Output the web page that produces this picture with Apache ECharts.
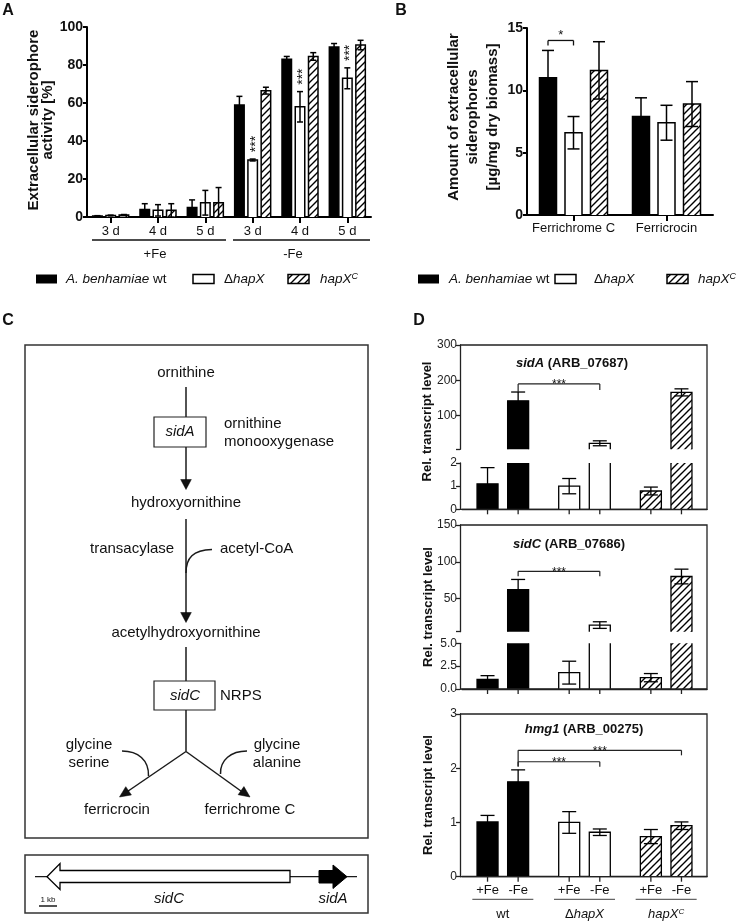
<!DOCTYPE html>
<html><head><meta charset="utf-8">
<script src="https://cdn.jsdelivr.net/npm/echarts@6/dist/echarts.min.js"></script>
<style>html,body{margin:0;padding:0;background:#fff}#c{width:740px;height:924px}</style>
</head><body><div id="c"></div>
<script>
// ================= DATA =================
// Panel A: extracellular siderophore activity [%]
const catsA = ['3 d','4 d','5 d','3 d','4 d','5 d'];
const groupsA = ['+Fe','-Fe'];
const A_wt = [0.5, 4, 5, 59, 83, 89.5];
const A_wt_err = [0.2, 3, 4, 4.5, 1.5, 1.8];
const A_dh = [0.8, 3.5, 7.5, 30, 58, 73];
const A_dh_err = [0.2, 3, 6.5, 0.5, 8, 5.5];
const A_c = [1.0, 3.5, 7.5, 66.5, 84.5, 90.5];
const A_c_err = [0.3, 3.5, 8, 1.8, 2, 2.5];
const A_sig = ['', '', '', '***', '***', '***'];
// Panel B: amount of extracellular siderophores
const catsB = ['Ferrichrome C','Ferricrocin'];
const B_wt = [11, 7.9], B_wt_err = [2.2, 1.5];
const B_dh = [6.6, 7.4], B_dh_err = [1.3, 1.4];
const B_c = [11.6, 8.9], B_c_err = [2.3, 1.8];
const sigB = [[0, 0, 1, 14, '*']]; // category, strain from, strain to, height, label
// Panel D: relative transcript levels
const catsD = ['wt','ΔhapX','hapXC'];
const condD = ['+Fe','-Fe'];
const sidA_plus = [1.1, 1.0, 0.79], sidA_plus_err = [0.7, 0.33, 0.17];
const sidA_minus = [142, 22, 166], sidA_minus_err = [25, 7, 10];
const sidC_plus = [1.06, 1.79, 1.24], sidC_plus_err = [0.4, 1.25, 0.45];
const sidC_minus = [62, 14, 80], sidC_minus_err = [14, 4.5, 10];
const hmg1_plus = [1.01, 1.0, 0.74], hmg1_plus_err = [0.12, 0.2, 0.13];
const hmg1_minus = [1.75, 0.82, 0.94], hmg1_minus_err = [0.22, 0.06, 0.07];
const sigD1 = [[0, 1, 190, '***']]; // from category, to category (-Fe bars), height, label
const sigD2 = [[0, 1, 87, '***']];
const sigD3 = [[0, 1, 2.12, '***'], [0, 2, 2.33, '***']];
const ticksD1u = [5, 100, 200, 300], labelsD1u = [100, 200, 300];
const ticksD2u = [5, 50, 100, 150], labelsD2u = [50, 100, 150];

// ================= STYLE / LAYOUT =================
const FONT = '"Liberation Sans", Arial, Helvetica, sans-serif';
const INK = '#111';
function hatchCanvas() {
  const s = 7, c = document.createElement('canvas');
  c.width = s; c.height = s;
  const g = c.getContext('2d');
  g.fillStyle = '#fff'; g.fillRect(0, 0, s, s);
  g.strokeStyle = '#000'; g.lineWidth = 1.4;
  g.beginPath();
  g.moveTo(0, s); g.lineTo(s, 0);
  g.moveTo(-s/2, s/2); g.lineTo(s/2, -s/2);
  g.moveTo(s/2, 3*s/2); g.lineTo(3*s/2, s/2);
  g.stroke();
  return c;
}
const HATCH = {image: hatchCanvas(), repeat: 'repeat'};
const FILLS = ['#000', '#fff', HATCH];

const offA = [-13.25, 0, 13.25], wA = 9.5;
const offB = [-25.5, 0, 25.5], wB = 17;
const offD = [-15.3, 15.3], wD = 21;

const grids = [
  {left: 87, top: 27, width: 284, height: 190},      // 0 A
  {left: 527, top: 28, width: 186, height: 187},     // 1 B
  {left: 462, top: 345, width: 245, height: 104.3},  // 2 D1 upper
  {left: 462, top: 463, width: 245, height: 46.3},   // 3 D1 lower
  {left: 462, top: 525, width: 245, height: 106.7},  // 4 D2 upper
  {left: 462, top: 643.3, width: 245, height: 45.7}, // 5 D2 lower
  {left: 462, top: 714, width: 245, height: 162.7}   // 6 D3
].map(g => Object.assign({outerBoundsMode: 'none', containLabel: false}, g));

function makeRender(o) {
  return function (params, api) {
    const cat = api.value(0), v = api.value(1), e = api.value(2);
    if (v <= o.min) return null;
    const top = Math.min(v, o.max);
    const pt = api.coord([cat, top]);
    const pb = api.coord([cat, o.min]);
    const fi = o.fillBySeries != null ? o.fillBySeries : cat;
    const x = pt[0] + o.off, xl = x - o.w / 2, xr = x + o.w / 2;
    const st = {stroke: '#000', lineWidth: o.lw, fill: null};
    const ch = [{type: 'rect', shape: {x: xl, y: pt[1], width: o.w, height: pb[1] - pt[1]}, style: {fill: FILLS[fi], stroke: null}}];
    if (v <= o.max) {
      ch.push({type: 'polyline', shape: {points: [[xl, pb[1]], [xl, pt[1]], [xr, pt[1]], [xr, pb[1]]]}, style: st});
      if (e > 0) {
        const hv = v + e, lv = v - e;
        const ph = api.coord([cat, Math.min(hv, o.max)]), pl = api.coord([cat, Math.max(lv, o.min)]);
        ch.push({type: 'line', shape: {x1: x, y1: pl[1], x2: x, y2: ph[1]}, style: st});
        if (hv <= o.max) ch.push({type: 'line', shape: {x1: x - o.cap / 2, y1: ph[1], x2: x + o.cap / 2, y2: ph[1]}, style: st});
        if (lv >= o.min) ch.push({type: 'line', shape: {x1: x - o.cap / 2, y1: pl[1], x2: x + o.cap / 2, y2: pl[1]}, style: st});
      }
      if (o.sig && o.sig[params.dataIndex]) {
        const ps = api.coord([cat, v + e]);
        ch.push({type: 'text', x: x + 3, y: ps[1] - 15, rotation: Math.PI / 2,
          style: {text: o.sig[params.dataIndex], fontSize: 14, fontFamily: FONT, fill: INK,
            textAlign: 'center', textVerticalAlign: 'middle', align: 'center', verticalAlign: 'middle'}});
      }
    } else {
      ch.push({type: 'line', shape: {x1: xl, y1: pb[1], x2: xl, y2: pt[1]}, style: st});
      ch.push({type: 'line', shape: {x1: xr, y1: pb[1], x2: xr, y2: pt[1]}, style: st});
    }
    return {type: 'group', children: ch};
  };
}
function toData(vals, errs) { return vals.map((v, i) => [i, v, errs[i]]); }
function custom(g, data, o) {
  return {type: 'custom', coordinateSystem: 'cartesian2d', xAxisIndex: g, yAxisIndex: g,
    encode: {x: 0, y: 1}, data: data, renderItem: makeRender(o), silent: true, z: 5};
}

// ---- axes ----
const xAxes = [], yAxes = [];
const boldLbl = {color: INK, fontSize: 14, fontWeight: 'bold', fontFamily: FONT, margin: 4};
xAxes[0] = {gridIndex: 0, type: 'category', data: catsA,
  axisLine: {show: true, lineStyle: {color: '#000', width: 2}},
  axisTick: {show: true, alignWithLabel: true, length: 6, lineStyle: {color: '#000', width: 2}},
  axisLabel: {color: INK, fontSize: 13, fontFamily: FONT, margin: 8, interval: 0}};
yAxes[0] = {gridIndex: 0, type: 'value', min: 0, max: 100, interval: 20,
  axisLine: {show: true, lineStyle: {color: '#000', width: 2}},
  axisTick: {show: true, length: 4, lineStyle: {color: '#000', width: 2}},
  axisLabel: boldLbl, splitLine: {show: false}};
xAxes[1] = {gridIndex: 1, type: 'category', data: catsB,
  axisLine: {show: true, lineStyle: {color: '#000', width: 2}},
  axisTick: {show: true, alignWithLabel: true, length: 6, lineStyle: {color: '#000', width: 2}},
  axisLabel: {color: INK, fontSize: 13, fontFamily: FONT, margin: 7, interval: 0}};
yAxes[1] = {gridIndex: 1, type: 'value', min: 0, max: 15, interval: 5,
  axisLine: {show: true, lineStyle: {color: '#000', width: 2}},
  axisTick: {show: true, length: 4, lineStyle: {color: '#000', width: 2}},
  axisLabel: boldLbl, splitLine: {show: false}};
const dLine = {show: true, lineStyle: {color: '#222', width: 1.3}};
const dTick = {show: true, length: 4, lineStyle: {color: '#222', width: 1.3}};
const dLbl = {color: '#222', fontSize: 12, fontFamily: FONT, margin: 3};
function dY(g, min, max, interval, extra) {
  return Object.assign({gridIndex: g, type: 'value', min, max, interval, offset: 2,
    axisLine: dLine, axisTick: Object.assign({}, dTick), axisLabel: Object.assign({}, dLbl), splitLine: {show: false}}, extra || {});
}
[2, 4].forEach(g => { xAxes[g] = {gridIndex: g, type: 'category', data: catsD, show: false}; });
[3, 5, 6].forEach(g => { xAxes[g] = {gridIndex: g, type: 'category', data: catsD,
  axisLine: dLine, axisTick: {show: false}, axisLabel: {show: false}}; });
yAxes[2] = dY(2, 5, 300, 100);
yAxes[2].axisTick.customValues = ticksD1u; yAxes[2].axisLabel.customValues = labelsD1u;
yAxes[3] = dY(3, 0, 2, 1);
yAxes[4] = dY(4, 5, 150, 50);
yAxes[4].axisTick.customValues = ticksD2u; yAxes[4].axisLabel.customValues = labelsD2u;
yAxes[5] = dY(5, 0, 5, 2.5); yAxes[5].axisLabel.formatter = v => Number(v).toFixed(1);
yAxes[6] = dY(6, 0, 3, 1);

// ---- series ----
const series = [];
[[A_wt, A_wt_err], [A_dh, A_dh_err], [A_c, A_c_err]].forEach((d, s) => {
  series.push(custom(0, toData(d[0], d[1]), {off: offA[s], w: wA, cap: 6, min: 0, max: 100, lw: 1.5, fillBySeries: s, sig: s === 1 ? A_sig : null}));
});
[[B_wt, B_wt_err], [B_dh, B_dh_err], [B_c, B_c_err]].forEach((d, s) => {
  series.push(custom(1, toData(d[0], d[1]), {off: offB[s], w: wB, cap: 12, min: 0, max: 15, lw: 1.5, fillBySeries: s}));
});
const Dsets = [
  {grids: [[2, 5, 300], [3, 0, 2]], plus: [sidA_plus, sidA_plus_err], minus: [sidA_minus, sidA_minus_err]},
  {grids: [[4, 5, 150], [5, 0, 5]], plus: [sidC_plus, sidC_plus_err], minus: [sidC_minus, sidC_minus_err]},
  {grids: [[6, 0, 3]], plus: [hmg1_plus, hmg1_plus_err], minus: [hmg1_minus, hmg1_minus_err]}
];
Dsets.forEach(ds => ds.grids.forEach(gd => {
  [ds.plus, ds.minus].forEach((d, k) => {
    series.push(custom(gd[0], toData(d[0], d[1]), {off: offD[k], w: wD, cap: 14, min: gd[1], max: gd[2], lw: 1.3}));
  });
}));

const chart = echarts.init(document.getElementById('c'), null, {renderer: 'canvas'});
chart.setOption({animation: false, backgroundColor: '#fff', grid: grids, xAxis: xAxes, yAxis: yAxes, series: series});

// ================= ANNOTATIONS =================
function P(g, cat, val) { return chart.convertToPixel({gridIndex: g}, [cat, val]); }
function richSet(size, weight) {
  const b = {fontSize: size, fontFamily: FONT, fontWeight: weight || 'normal', fill: INK};
  return {i: Object.assign({fontStyle: 'italic'}, b), n: Object.assign({fontStyle: 'normal'}, b),
    s: Object.assign({fontStyle: 'italic'}, b, {fontSize: Math.round(size * 0.65), verticalAlign: 'top'})};
}
function T(x, y, text, opt, rot) {
  const st = Object.assign({text, fontSize: 15, fontFamily: FONT, fontWeight: 'normal', fontStyle: 'normal', fill: INK,
    textAlign: 'center', textVerticalAlign: 'middle', align: 'center', verticalAlign: 'middle'}, opt || {});
  if (st.textAlign !== st.align) st.align = st.textAlign;
  const el = {type: 'text', x, y, silent: true, z: 10, style: st};
  if (rot) el.rotation = rot;
  return el;
}
function Ln(x1, y1, x2, y2, w, c) { return {type: 'line', silent: true, z: 10, shape: {x1, y1, x2, y2}, style: {stroke: c || INK, lineWidth: w || 1.5}}; }
function Poly(points, fill, w) { return {type: 'polygon', silent: true, z: 10, shape: {points}, style: {fill: fill, stroke: '#000', lineWidth: w || 1}}; }
function Rect(x, y, w, h, fill, sw, stroke) { return {type: 'rect', silent: true, z: 10, shape: {x, y, width: w, height: h}, style: {fill: fill, stroke: stroke || '#000', lineWidth: sw == null ? 1.5 : sw}}; }
function arrowHead(tx, ty, fx, fy, len, hw) {
  const dx = tx - fx, dy = ty - fy, L = Math.hypot(dx, dy), ux = dx / L, uy = dy / L;
  const bx = tx - ux * len, by = ty - uy * len;
  return Poly([[tx, ty], [bx - uy * hw, by + ux * hw], [bx + uy * hw, by - ux * hw]], '#111', 0.5);
}
const label = {A: '{i|A. benhamiae}{n| wt}', D: '{n|Δ}{i|hapX}', C: '{i|hapX}{s|C}'};
const G = [];
// panel letters
G.push(T(8, 11, 'A', {fontWeight: 'bold', fontSize: 16}), T(401, 11, 'B', {fontWeight: 'bold', fontSize: 16}),
  T(8, 321, 'C', {fontWeight: 'bold', fontSize: 16}), T(419, 321, 'D', {fontWeight: 'bold', fontSize: 16}));
// A titles & groups
G.push(T(41, 120, 'Extracellular siderophore\nactivity [%]', {fontWeight: 'bold', fontSize: 15, lineHeight: 14}, Math.PI / 2));
G.push(Ln(92, 240, 226, 240, 1.3), Ln(233, 240, 370, 240, 1.3));
G.push(T(155, 254, groupsA[0], {fontSize: 13}), T(293, 254, groupsA[1], {fontSize: 13}));
// legends
function legend(y, boxes, texts) {
  boxes.forEach((bx, i) => {
    G.push(Rect(bx, y - 4.5, 21, 9, FILLS[i], i === 0 ? 0 : 1.5));
    G.push(T(texts[i], y, [label.A, label.D, label.C][i], {textAlign: 'left', rich: richSet(13.5)}));
  });
}
legend(279, [36, 193, 288], [66, 224, 320]);
legend(279, [418, 555, 667], [449, 594, 698]);
// B title and significance
G.push(T(473, 117, 'Amount of extracellular\nsiderophores\n[µg/mg dry biomass]', {fontWeight: 'bold', fontSize: 15, lineHeight: 19.5}, Math.PI / 2));
sigB.forEach(s => {
  const p = P(1, s[0], s[3]);
  const x1 = p[0] + offB[s[1]], x2 = p[0] + offB[s[2]];
  G.push(Ln(x1, p[1], x2, p[1], 1.3), Ln(x1, p[1], x1, p[1] + 5, 1.3), Ln(x2, p[1], x2, p[1] + 5, 1.3));
  G.push(T((x1 + x2) / 2, p[1] - 5, s[4], {fontSize: 13}));
});

// ---- Panel C diagram ----
const DC = '#1a1a1a';
G.push(Rect(25, 345, 343, 493, null, 1.5, '#333'), Rect(25, 855, 343, 58, null, 1.5, '#333'));
G.push(T(186, 373, 'ornithine'));
G.push(Ln(186, 387, 186, 417, 1.5, DC));
G.push(Rect(154, 417, 52, 30, '#fff', 1.2, '#222'), T(180, 432, 'sidA', {fontStyle: 'italic'}));
G.push(T(224, 424, 'ornithine', {textAlign: 'left'}), T(224, 442, 'monooxygenase', {textAlign: 'left'}));
G.push(Ln(186, 447, 186, 481, 1.5, DC), arrowHead(186, 489.5, 186, 447, 10, 5.3));
G.push(T(186, 503, 'hydroxyornithine'));
G.push(Ln(186, 519, 186, 614, 1.5, DC), arrowHead(186, 622.5, 186, 519, 10, 5.3));
G.push(T(90, 549, 'transacylase', {textAlign: 'left'}), T(220, 549, 'acetyl-CoA', {textAlign: 'left'}));
G.push({type: 'bezierCurve', silent: true, z: 10, shape: {x1: 212, y1: 549.5, x2: 186, y2: 573, cpx1: 193, cpy1: 550, cpx2: 186, cpy2: 558}, style: {stroke: DC, lineWidth: 1.5, fill: null}});
G.push(T(186, 633, 'acetylhydroxyornithine'));
G.push(Ln(186, 647, 186, 681, 1.5, DC));
G.push(Rect(154, 681, 61, 29, '#fff', 1.2, '#222'), T(185, 696, 'sidC', {fontStyle: 'italic'}));
G.push(T(220, 696, 'NRPS', {textAlign: 'left'}));
G.push(Ln(186, 710, 186, 751.5, 1.5, DC));
G.push(Ln(186, 751.5, 126, 792.5, 1.5, DC), arrowHead(119.5, 797, 186, 751.5, 11, 5));
G.push(Ln(186, 751.5, 243, 792.5, 1.5, DC), arrowHead(250, 797, 186, 751.5, 11, 5));
G.push(T(89, 745, 'glycine'), T(89, 763, 'serine'), T(277, 745, 'glycine'), T(277, 763, 'alanine'));
G.push({type: 'bezierCurve', silent: true, z: 10, shape: {x1: 122, y1: 751, x2: 148.5, y2: 776, cpx1: 138, cpy1: 751, cpx2: 149, cpy2: 760}, style: {stroke: DC, lineWidth: 1.5, fill: null}});
G.push({type: 'bezierCurve', silent: true, z: 10, shape: {x1: 247, y1: 751, x2: 220.5, y2: 774, cpx1: 231, cpy1: 751, cpx2: 220, cpy2: 760}, style: {stroke: DC, lineWidth: 1.5, fill: null}});
G.push(T(117, 810, 'ferricrocin'), T(250, 810, 'ferrichrome C'));
// gene map
G.push(Ln(35, 876.7, 357, 876.7, 1.3, DC));
G.push(Poly([[47, 876.7], [60, 863.5], [60, 870.5], [290, 870.5], [290, 882.5], [60, 882.5], [60, 889.5]], '#fff', 1.3));
G.push(Poly([[319, 870.5], [333, 870.5], [333, 865], [347, 876.7], [333, 888.5], [333, 883], [319, 883]], '#000', 1));
G.push(T(48, 899.5, '1 kb', {fontSize: 8}), Ln(39, 906, 57, 906, 1.5, DC));
G.push(T(169, 899, 'sidC', {fontStyle: 'italic'}), T(333, 899, 'sidA', {fontStyle: 'italic'}));

// ---- Panel D decorations ----
const frames = [[345, 509.3], [525, 689], [714, 876.7]];
frames.forEach(f => G.push({type: 'polyline', silent: true, z: 9, shape: {points: [[460, f[1]], [707, f[1]], [707, f[0]], [460, f[0]]]}, style: {stroke: '#222', lineWidth: 1.3, fill: null}}));
G.push(T(572, 363, '{i|sidA}{n| (ARB_07687)}', {rich: richSet(13, 'bold')}));
G.push(T(569, 544, '{i|sidC}{n| (ARB_07686)}', {rich: richSet(13, 'bold')}));
G.push(T(584, 729, '{i|hmg1}{n| (ARB_00275)}', {rich: richSet(13, 'bold')}));
[[427, 421.5], [428, 607], [428, 795]].forEach(c => G.push(T(c[0], c[1], 'Rel. transcript level', {fontWeight: 'bold', fontSize: 13}, Math.PI / 2)));
// ticks under each bar
[[3, 0], [5, 0], [6, 0]].forEach(gd => {
  for (let c = 0; c < catsD.length; c++) offD.forEach(o => {
    const p = P(gd[0], c, gd[1]);
    G.push(Ln(p[0] + o, p[1], p[0] + o, p[1] + 5, 1.3, '#222'));
  });
});
// D3 x labels
for (let c = 0; c < catsD.length; c++) {
  const p = P(6, c, 0);
  offD.forEach((o, k) => G.push(T(p[0] + o, 890, condD[k], {fontSize: 13})));
  G.push(Ln(p[0] - 30.5, 899.3, p[0] + 30.5, 899.3, 1.2, '#666'));
  G.push(T(p[0], 914, [ '{n|wt}', label.D, label.C ][c], {rich: richSet(13)}));
}
// significance brackets
function bracket(g, s, tl, tr) {
  const pa = P(g, s[0], s[2]), pb = P(g, s[1], s[2]);
  const x1 = pa[0] + offD[1], x2 = pb[0] + offD[1], y = pa[1];
  G.push(Ln(x1, y, x2, y, 1.2, '#222'), Ln(x1, y, x1, y + tl, 1.2, '#222'), Ln(x2, y, x2, y + tr, 1.2, '#222'));
  G.push(T((x1 + x2) / 2, y + 1, s[3], {fontSize: 12}));
}
sigD1.forEach(s => bracket(2, s, 8, 6));
sigD2.forEach(s => bracket(4, s, 5, 5));
bracket(6, sigD3[0], 5, 5);
bracket(6, sigD3[1], 16, 5);

chart.setOption({graphic: G});
</script></body></html>
